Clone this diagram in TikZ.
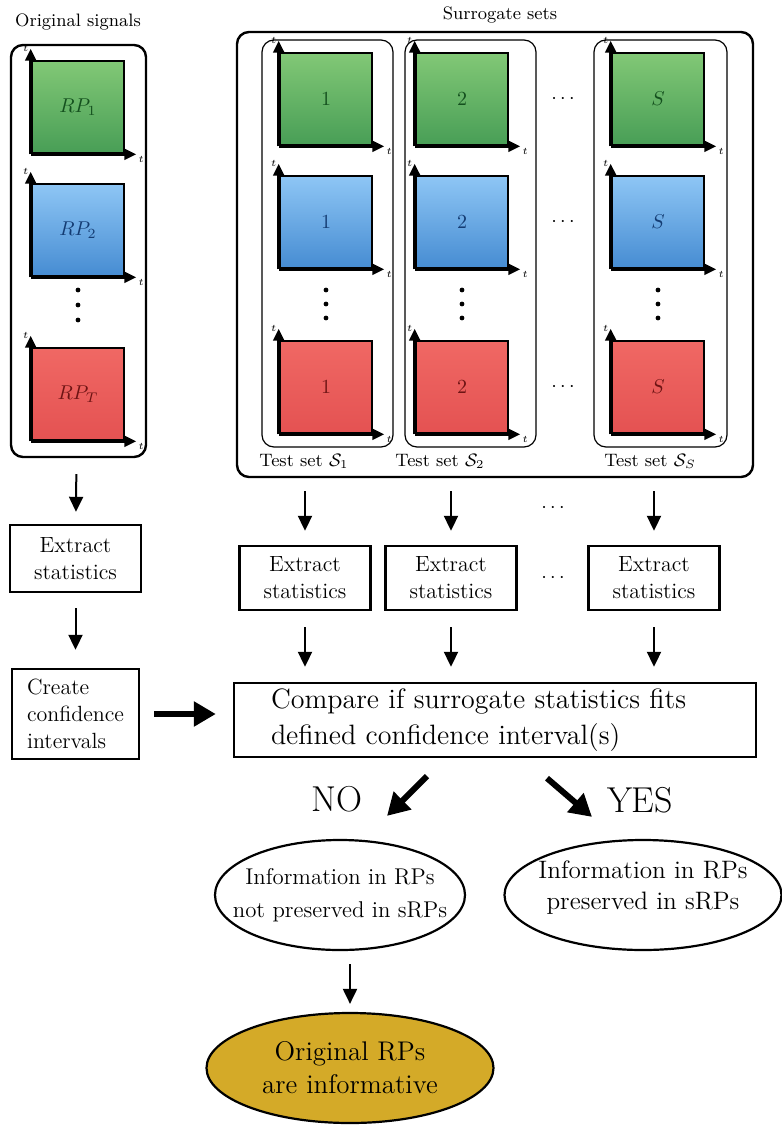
\documentclass[tikz,border=0pt]{standalone}
\usetikzlibrary{arrows.meta,shapes.geometric,fit}

\definecolor{greentop}{RGB}{130,200,118}
\definecolor{greenbot}{RGB}{72,158,86}
\definecolor{greentext}{RGB}{20,80,30}
\definecolor{bluetop}{RGB}{142,198,245}
\definecolor{bluebot}{RGB}{70,140,210}
\definecolor{bluetext}{RGB}{20,60,115}
\definecolor{redtop}{RGB}{240,104,100}
\definecolor{redbot}{RGB}{228,82,82}
\definecolor{redtext}{RGB}{110,20,20}
\definecolor{goldfill}{RGB}{212,170,40}

\tikzstyle{rp} = [draw, line width=1.3pt, minimum size=46pt, inner sep=0pt, font=\fontsize{10}{12}\selectfont]
\tikzstyle{rpg} = [rp, top color=greentop, bottom color=greenbot, text=greentext]
\tikzstyle{rpb} = [rp, top color=bluetop, bottom color=bluebot, text=bluetext]
\tikzstyle{rpr} = [rp, top color=redtop, bottom color=redbot, text=redtext]
\tikzstyle{axis} = [line width=1.3pt, -{Triangle[length=6pt,width=5.5pt]}]
\tikzstyle{axlab} = [font=\fontsize{3}{3}\selectfont, inner sep=0.4pt]
\tikzstyle{group} = [draw, line width=1.2pt, rounded corners=6pt, inner sep=0pt]
\tikzstyle{testset} = [draw, line width=0.6pt, rounded corners=6pt, inner sep=0pt]
\tikzstyle{caption} = [font=\fontsize{9}{10}\selectfont]
\tikzstyle{stepbox} = [draw, line width=1.2pt, align=center, inner sep=2pt, font=\fontsize{11}{13.5}\selectfont]
\tikzstyle{flow} = [line width=1pt, -{Triangle[length=7.5pt,width=7pt]}]
\tikzstyle{bigarrow} = [line width=3pt, -{Triangle[length=11pt,width=12pt]}]
\tikzstyle{answer} = [font=\fontsize{18}{21}\selectfont]
\tikzstyle{outcome} = [draw, ellipse, line width=1.1pt, inner sep=0pt]
\tikzstyle{hdots} = [font=\fontsize{10}{12}\selectfont]

% one recurrence plot with its two time axes
\newcommand{\rpsquare}[5]{%
  \node[#4] (#1) at (#2,#3) {#5};
  \draw[axis] (#1.south west) -- ([yshift=5.5pt]#1.north west) node[axlab, left] (#1-ty) {$t$};
  \draw[axis] (#1.south west) -- ([xshift=5.5pt]#1.south east) node[axlab, below right] (#1-tx) {$t$};
}

\begin{document}
\begin{tikzpicture}[x=0.5pt, y=0.5pt]
\useasboundingbox (0,0) rectangle (782,-1125);

% original signals
\node[caption] (origlab) at (78,-22) {Original signals};
\node[group, fit={(11,-45) (146,-457)}] (orig) {};
\rpsquare{og}{78}{-107}{rpg}{$RP_1$}
\rpsquare{ob}{78}{-230}{rpb}{$RP_2$}
\rpsquare{or}{78}{-394}{rpr}{$RP_T$}
\foreach \yy in {290,305,320} \fill (78,-\yy) circle (1.2pt);

% surrogate sets
\node[caption] (surlab) at (500,-15) {Surrogate sets};
\node[group, fit={(237,-32) (753,-477)}] (sur) {};
\node[testset, fit={(262,-40) (393,-447)}] (set1) {};
\node[testset, fit={(405,-40) (536,-447)}] (set2) {};
\node[testset, fit={(594,-40) (727,-447)}] (sets) {};
\node[caption] (set1lab) at (304,-461) {Test set $\mathcal{S}_1$};
\node[caption] (set2lab) at (440,-461) {Test set $\mathcal{S}_2$};
\node[caption] (setslab) at (650,-461) {Test set $\mathcal{S}_S$};
\foreach \c/\x/\n in {1/326/1, 2/462/2, s/658/S} {
  \rpsquare{g\c}{\x}{-99}{rpg}{$\n$}
  \rpsquare{b\c}{\x}{-222}{rpb}{$\n$}
  \rpsquare{r\c}{\x}{-387}{rpr}{$\n$}
  \foreach \yy in {290,304,318} \fill (\x,-\yy) circle (1.2pt);
}
\node[hdots] (gdots) at (563,-99) {$\cdots$};
\node[hdots] (bdots) at (563,-222) {$\cdots$};
\node[hdots] (rdots) at (563,-387) {$\cdots$};

% statistics
\node[stepbox, minimum width=65.5pt, minimum height=33.5pt] (ext0) at (75.5,-558.5) {Extract\\statistics};
\node[stepbox, minimum width=63.5pt, minimum height=45pt, align=left] (create) at (75.5,-714) {Create\\confidence\\intervals};
\node[stepbox, minimum width=65.5pt, minimum height=32pt] (ext1) at (305,-578) {Extract\\statistics};
\node[stepbox, minimum width=65.5pt, minimum height=32pt] (ext2) at (451,-578) {Extract\\statistics};
\node[stepbox, minimum width=65.5pt, minimum height=32pt] (exts) at (654,-578) {Extract\\statistics};
\node[hdots] (adots) at (553,-508) {$\cdots$};
\node[hdots] (edots) at (553,-578) {$\cdots$};
\node[stepbox, text width=224pt, inner xsep=18.5pt, minimum height=37pt, align=left, font=\fontsize{14}{18}\selectfont] (cmp) at (495,-720)
  {Compare if surrogate statistics fits\\defined confidence interval(s)};

\draw[flow, shorten <=8pt, shorten >=6pt] (orig) -- (ext0);
\draw[flow, shorten <=7.5pt, shorten >=9pt] (ext0) -- (create);
\foreach \e in {ext1,ext2,exts} {
  \draw[flow, shorten <=6.5pt, shorten >=7pt] (\e |- sur.south) -- (\e);
  \draw[flow, shorten <=8pt, shorten >=7.5pt] (\e) -- (\e |- cmp.north);
}
\draw[bigarrow, shorten <=7pt, shorten >=8.5pt] (create.east) -- (create.east -| cmp.west);

% outcome
\node[outcome, minimum width=125pt, minimum height=55pt,
  label={[font=\fontsize{11.4}{16.5}\selectfont, align=center]center:{Information in RPs\\not preserved in sRPs}}] (info1) at (340,-895) {};
\node[outcome, minimum width=138.5pt, minimum height=55pt,
  label={[font=\fontsize{12.6}{15.5}\selectfont, align=center, yshift=3.5pt]center:{Information in RPs\\preserved in sRPs}}] (info2) at (643,-895) {};
\node[outcome, fill=goldfill, minimum width=143.5pt, minimum height=55pt,
  label={[font=\fontsize{13.5}{16.5}\selectfont, align=center]center:{Original RPs\\are informative}}] (gold) at (350,-1068) {};
\node[answer] (no) at (337,-799) {NO};
\node[answer] (yes) at (640,-800) {YES};

\draw[bigarrow] ([xshift=-34pt,yshift=-9pt]cmp.south) -- ([xshift=23.5pt,yshift=11.5pt]info1.north);
\draw[bigarrow] ([xshift=26pt,yshift=-10pt]cmp.south) -- ([xshift=-25.5pt,yshift=11pt]info2.north);
\draw[flow, shorten <=6.5pt, shorten >=4pt] (gold.north |- info1.south) -- (gold.north);
\end{tikzpicture}
\end{document}
